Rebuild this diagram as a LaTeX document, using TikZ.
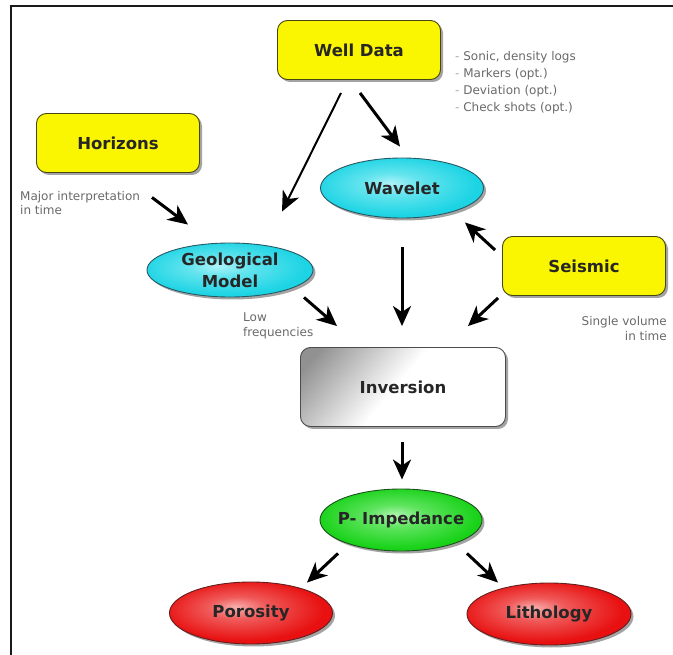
\documentclass[tikz,border=0pt]{standalone}
\usepackage{fontspec}
\setmainfont{DejaVu Sans}
\usetikzlibrary{shapes.geometric,shadows,arrows.meta,calc}

\definecolor{boxyellow}{RGB}{250,245,0}
\definecolor{yellowrim}{RGB}{70,70,20}
\definecolor{cyanedge}{RGB}{28,212,228}
\definecolor{cyanmid}{RGB}{100,228,238}
\definecolor{cyanlight}{RGB}{175,243,248}
\definecolor{cyanrim}{RGB}{40,90,100}
\definecolor{greenedge}{RGB}{24,210,24}
\definecolor{greenmid}{RGB}{95,228,95}
\definecolor{greenlight}{RGB}{175,246,175}
\definecolor{greenrim}{RGB}{30,80,30}
\definecolor{rededge}{RGB}{232,16,16}
\definecolor{redmid}{RGB}{240,90,90}
\definecolor{redlight}{RGB}{248,175,175}
\definecolor{redrim}{RGB}{100,30,30}
\definecolor{invdark}{RGB}{145,145,145}
\definecolor{notegray}{RGB}{105,105,105}

% glossy fills for the oval nodes, highlight slightly up and to the left
\pgfdeclareradialshading{cyanball}{\pgfpoint{-4bp}{4bp}}{color(0bp)=(cyanlight); color(9bp)=(cyanmid); color(25bp)=(cyanedge); color(50bp)=(cyanedge)}
\pgfdeclareradialshading{greenball}{\pgfpoint{-2bp}{4bp}}{color(0bp)=(greenlight); color(9bp)=(greenmid); color(25bp)=(greenedge); color(50bp)=(greenedge)}
\pgfdeclareradialshading{redball}{\pgfpoint{-5bp}{5bp}}{color(0bp)=(redlight); color(9bp)=(redmid); color(25bp)=(rededge); color(50bp)=(rededge)}
% grey-to-white sheen for the central process box
\pgfdeclarehorizontalshading{invshade}{100bp}{color(0bp)=(invdark); color(20bp)=(invdark); color(48bp)=(white); color(100bp)=(white)}

\begin{document}
\begin{tikzpicture}[x=1pt,y=-1pt,
  label font/.style={font=\bfseries\fontsize{16.5}{22}\selectfont, text=black!85},
  nshadow/.style={drop shadow={shadow xshift=2.5pt, shadow yshift=-2.5pt, fill=black!60, opacity=0.6}},
  ybox/.style={label font, nshadow, draw=yellowrim, line width=0.9pt, rounded corners=10pt,
    fill=boxyellow, minimum width=163pt, minimum height=59pt, inner sep=0pt},
  oval/.style={label font, nshadow, ellipse, line width=0.9pt, inner sep=0pt, align=center},
  cyanoval/.style={oval, shading=cyanball, draw=cyanrim},
  greenoval/.style={oval, shading=greenball, draw=greenrim},
  redoval/.style={oval, shading=redball, draw=redrim},
  invbox/.style={label font, nshadow, draw=black!70, line width=0.9pt, rounded corners=10pt,
    shading=invshade, shading angle=-40, minimum width=205pt, minimum height=79pt, inner sep=0pt},
  note/.style={font=\fontsize{12}{15}\selectfont, text=notegray, inner sep=0pt},
  arr/.style={line width=3pt, -{Stealth[length=20pt,width=18pt,inset=6pt]}},
  thinarr/.style={line width=2pt, -{Stealth[length=20pt,width=18pt,inset=6pt]}}
]
\useasboundingbox (0,0) rectangle (673,655);

% frame
\draw[line width=2pt, black!90] (11,655) -- (11,6) -- (673,6);

% nodes
\node[ybox] (wd) at (359,50) {Well Data};
\node[ybox] (hor) at (118,143) {Horizons};
\node[ybox] (seis) at (584,266) {Seismic};
\node[cyanoval, minimum width=163pt, minimum height=60pt] (wav) at (402,188) {Wavelet};
\node[cyanoval, minimum width=166pt, minimum height=54pt] (geo) at (230,270) {Geological\\Model};
\node[invbox] (inv) at (403,387) {Inversion};
\node[greenoval, inner xsep=-7pt, minimum width=162pt, minimum height=62pt] (pimp) at (401,520) {P- Impedance};
\node[redoval, minimum width=163pt, minimum height=62pt] (por) at (251,613) {Porosity};
\node[redoval, minimum width=164pt, minimum height=62pt] (lith) at (549,614) {Lithology};

% annotations
\node[note, anchor=base west] (wdn1) at (455,61) {{\color{black!35}-} Sonic, density logs};
\node[note, anchor=base west] (wdn2) at (455,78) {{\color{black!35}-} Markers (opt.)};
\node[note, anchor=base west] (wdn3) at (455,95) {{\color{black!35}-} Deviation (opt.)};
\node[note, anchor=base west] (wdn4) at (455,112) {{\color{black!35}-} Check shots (opt.)};
\node[note, anchor=base west] (hn1) at (20,201) {Major interpretation};
\node[note, anchor=base west] (hn2) at (20,215) {in time};
\node[note, anchor=base west] (gn1) at (243,322) {Low};
\node[note, anchor=base west] (gn2) at (243,337) {frequencies};
\node[note, anchor=base east] (sn1) at (667,326) {Single volume};
\node[note, anchor=base east] (sn2) at (667,341) {in time};

% connectors
\draw[thinarr] ($(wd.south)+(-18,13)$) -- ($(geo.north)+(52,-31)$);
\draw[arr] ($(wd.south)+(1,13)$) -- ($(wav.north)+(-2,-11)$);
\draw[arr] ($(hor.south)+(34,24.5)$) -- ($(geo.north)+(-42,-18)$);
\draw[arr] ($(wav.south)+(0,29)$) -- ($(inv.north)+(-1,-21)$);
\draw[arr] ($(geo.south)+(74,0)$) -- ($(inv.north)+(-66,-21)$);
\draw[arr] ($(seis.west)+(-7,-16)$) -- ($(wav.south)+(63,4)$);
\draw[arr] ($(seis.west)+(-4,32)$) -- ($(inv.north)+(65,-21)$);
\draw[arr] ($(inv.south)+(-1,15)$) -- ($(pimp.north)+(1,-9)$);
\draw[arr] ($(pimp.south)+(-63,2)$) -- ($(por.north)+(56,1)$);
\draw[arr] ($(pimp.south)+(66,2)$) -- ($(lith.north)+(-51,0)$);
\end{tikzpicture}
\end{document}
